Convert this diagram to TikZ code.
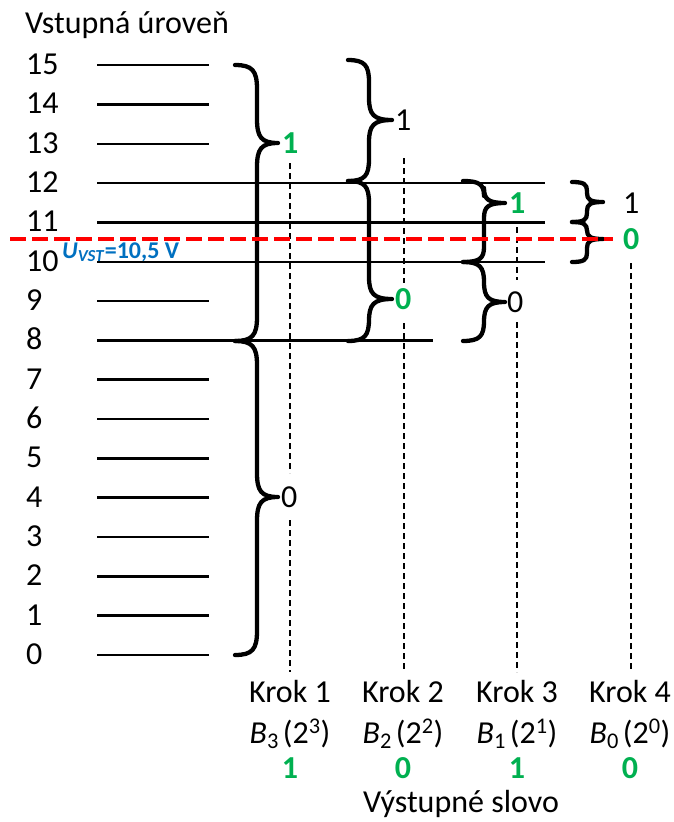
\documentclass[tikz,border=0pt]{standalone}
\usepackage{fontspec}
\setmainfont{Carlito}
\definecolor{grn}{HTML}{00B050}
\definecolor{blu}{HTML}{0070C0}
\tikzset{
  lvl/.style={line width=2.4pt},
  brc/.style={line width=4.3pt, line cap=round, line join=round},
  guide/.style={line width=1.2pt, dash pattern=on 6pt off 4pt},
  redline/.style={line width=4.5pt, red, dash pattern=on 16pt off 6pt},
  lab/.style={inner sep=0pt},
  bitg/.style={inner sep=0pt, text=grn, font=\fontsize{32}{38}\selectfont\bfseries},
}
% x0, xv, xtip, ytop, ytip, ybot, r
\newcommand\mybrc[7]{%
  \draw[brc] (#1,#4) .. controls (#2-0.2*#2+0.2*#1,#4) and (#2,#4+0.25*#7) .. (#2,#4+#7) -- (#2,#5-#7)
    .. controls (#2,#5-0.25*#7) and (#2+0.2*#3-0.2*#2,#5) .. (#3,#5)
    .. controls (#2+0.2*#3-0.2*#2,#5) and (#2,#5+0.25*#7) .. (#2,#5+#7)
    -- (#2,#6-#7) .. controls (#2,#6-0.25*#7) and (#2-0.2*#2+0.2*#1,#6) .. (#1,#6);}
\begin{document}
\begin{tikzpicture}[x=1pt,y=-1pt,font=\fontsize{32}{38}\selectfont]
\useasboundingbox (0,0) rectangle (674,822);
% title
\node[lab,anchor=base west] (title) at (25,33) {Vstupná úroveň};
% levels
\foreach \k/\xe in {0/209,1/209,2/209,3/209,4/209,5/209,6/209,7/209,8/433,9/209,10/545,11/545,12/545,13/209,14/209,15/209}{
  \pgfmathsetmacro\yy{655-39.33*\k}
  \node[lab,anchor=base west] (n\k) at (26,\yy+9.5) {\k};
  \draw[lvl] (97,\yy) -- (\xe,\yy);
}
% guide dashed lines
\draw[guide] (290,163) -- (290,473);
\draw[guide] (290,520) -- (290,672);
\draw[guide] (404,158) -- (404,283);
\draw[guide] (404,323) -- (404,672);
\draw[guide] (517,227) -- (517,280);
\draw[guide] (517,322) -- (517,672);
\draw[guide] (631,263) -- (631,672);
% braces
\mybrc{235}{257}{278}{65}{143}{341}{24}
\mybrc{235}{257}{278}{341}{497}{655}{24}
\mybrc{348}{369}{392}{60}{120}{181}{22}
\mybrc{348}{369}{392}{181}{299}{341}{22}
\mybrc{463}{484}{505}{181}{203}{262}{15}
\mybrc{463}{484}{505}{262}{302}{341}{20}
\mybrc{572}{587}{603}{182}{202}{222}{9}
\mybrc{572}{587}{603}{222}{239}{262}{9}
% brace labels
\node[bitg,anchor=base west] (a1) at (282,153) {1};
\node[lab,anchor=base west] (a0) at (281,507) {0};
\node[lab,anchor=base west] (b1) at (395,130) {1};
\node[bitg,anchor=base west] (b0) at (395,309) {0};
\node[bitg,anchor=base west] (c1) at (509,213) {1};
\node[lab,anchor=base west] (c0) at (507,312) {0};
\node[lab,anchor=base west] (d1) at (623,213) {1};
\node[bitg,anchor=base west] (d0) at (623,249) {0};
% red input level
\draw[redline] (10,239) -- (613,239);
\node[lab,anchor=base west,text=blu,font=\fontsize{24}{28}\selectfont\bfseries] (uvst) at (62,258) {\textit{U}\textsubscript{\textit{VST}}=10,5 V};
% bottom labels
\foreach \i/\x/\b/\e/\v in {1/290/3/3/1,2/403/2/2/0,3/517/1/1/1,4/630/0/0/0}{
  \node[lab,anchor=base] (k\i) at (\x,702) {Krok \i};
  \node[lab,anchor=base] (w\i) at (\x,743) {\textit{B}\textsubscript{\b}\hspace{4pt}(2\textsuperscript{\e})};
  \node[bitg,anchor=base] (v\i) at (\x,778) {\v};
}
\node[lab,anchor=base] (out) at (461,812) {Výstupné slovo};
\end{tikzpicture}
\end{document}
